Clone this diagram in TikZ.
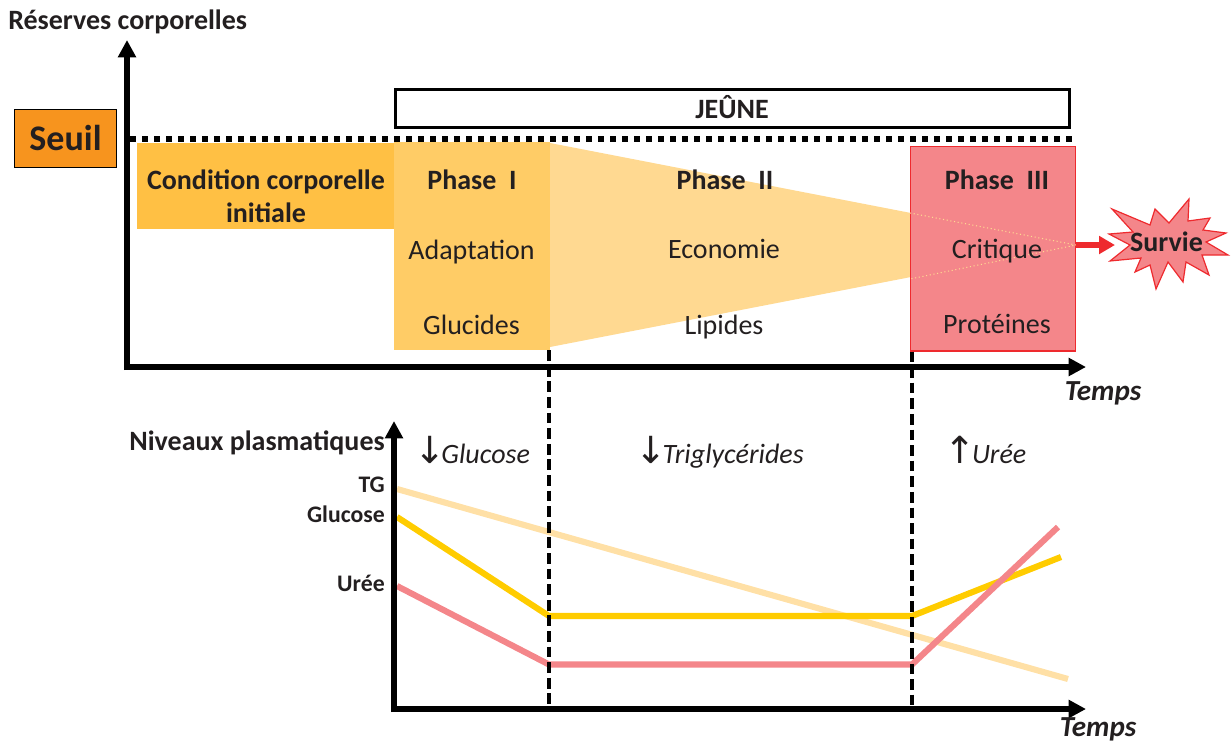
\documentclass[tikz,border=0pt]{standalone}
\usepackage{fontspec}
\setmainfont{Carlito}
\newfontfamily\arrowfont{DejaVu Sans}
\usepackage{tikz}
\usetikzlibrary{positioning, arrows.meta}
\definecolor{seuilfill}{HTML}{F7941E}
\definecolor{initfill}{HTML}{FFC044}
\definecolor{phaseonefill}{HTML}{FFCC66}
\definecolor{phasetwofill}{HTML}{FFD991}
\definecolor{phasethreefill}{HTML}{F4868A}
\definecolor{redline}{HTML}{EE2A2E}
\definecolor{tgline}{HTML}{FFE0A6}
\definecolor{glucoseline}{HTML}{FFCC00}
\definecolor{ink}{HTML}{231F20}
\tikzset{
  axis/.style={line width=4.5pt, -{Triangle[length=13pt,width=13pt]}},
  curve/.style={line width=4.6pt, line join=round},
  phaseline/.style={line width=2.5pt, dash pattern=on 8pt off 3.7pt},
  big/.style={font=\fontsize{21}{25}\selectfont\bfseries, text=ink},
  plain/.style={font=\fontsize{21}{25}\selectfont, text=ink},
  small/.style={font=\fontsize{17.8}{21}\selectfont\bfseries, text=ink},
  slanted/.style={font=\fontsize{21}{25}\selectfont\itshape, text=ink},
  title/.style={font=\fontsize{21.8}{26}\selectfont\bfseries\itshape, text=ink},
}

\begin{document}
\begin{tikzpicture}[x=0.75pt, y=-0.75pt]
    \useasboundingbox (0,0) rectangle (1231,743);

    % Draw the shaded phases
    \fill[phasetwofill] (550,143) -- (1076,245) -- (550,347) -- cycle;
    \node[draw=redline, line width=1pt, fill=phasethreefill, minimum width=124pt, minimum height=153.5pt, inner sep=0pt] (phasethree) at (993,248.5) {};
    \draw[phasetwofill, line width=0.8pt, dotted] (910,213) -- (1076,245) -- (910,279);
    \node[fill=initfill, minimum width=192.75pt, minimum height=64.5pt, inner sep=0pt] (initiale) at (265.5,186) {};
    \node[fill=phaseonefill, minimum width=117pt, minimum height=156pt, inner sep=0pt] (phaseone) at (472,246) {};

    % Draw threshold and fasting box
    \node[draw=black, line width=0.75pt, fill=seuilfill, minimum width=76pt, minimum height=43.5pt, inner sep=0pt] (seuil) at (65.5,138.5) {};
    \node[anchor=base, inner sep=0pt, font=\fontsize{27}{32}\selectfont\bfseries, text=ink] (seuiltext) at (65.5,150) {Seuil};
    \node[draw=black, line width=2.25pt, minimum width=505.5pt, minimum height=28.5pt, inner sep=0pt] (jeune) at (732.5,108) {};
    \node[big, anchor=base, inner sep=0pt] (jeunetext) at (732,118) {JEÛNE};
    \coordinate (seuilstart) at (130,139);
    \coordinate (seuilend) at (1073,139);
    \draw[line width=4.5pt, dash pattern=on 4.5pt off 4.5pt] (seuilstart) -- (seuilend);

    % Draw the star
    \draw[draw=redline, line width=0.9pt, fill=phasethreefill]
      (1112,209) -- (1150,225) -- (1155,209) -- (1169,223) -- (1189,199) -- (1188,221) -- (1210,218) -- (1203,230) -- (1226,233) -- (1206,242) -- (1228,255) -- (1202,255) -- (1209,275) -- (1186,262) -- (1183,282) -- (1168,262) -- (1156,289) -- (1150,265) -- (1135,272) -- (1141,258) -- (1110,261) -- (1130,245) -- (1109,234) -- (1133,232) -- cycle;
    \node[big, anchor=base, inner sep=0pt] (survie) at (1166.5,251) {Survie};
    \coordinate (starleft) at (1115,245);
    \draw[redline, line width=4.5pt, -{Triangle[length=12pt,width=13pt]}] (phasethree.east |- starleft) -- (starleft);

    % Draw axes of the upper chart
    \coordinate (origintop) at (127,367);
    \coordinate (toptip) at (127,40);
    \coordinate (righttip) at (1086,367);
    \draw[axis] ([yshift=-2.25pt]origintop) -- (toptip);
    \draw[axis] ([xshift=-2.25pt]origintop) -- (righttip);

    % Draw the plasma levels
    \foreach \name/\col/\pts in {tg/tgline/{(397,489) -- (1068,679)}, gluc/glucoseline/{(397,517) -- (549,616) -- (912,616) -- (1061,557)}, uree/phasethreefill/{(397,586) -- (549,664.5) -- (912,664.5) -- (1058,527)}} {
      \draw[curve, \col] \pts;
    }

    % Draw axes of the lower chart
    \coordinate (originlow) at (394,709);
    \coordinate (lowtip) at (394,421);
    \coordinate (lowright) at (1086,709);
    \draw[axis] ([yshift=-2.25pt]originlow) -- (lowtip);
    \draw[axis] ([xshift=-2.25pt]originlow) -- (lowright);

    % Draw the phase limits
    \coordinate (limitoneb) at (549,705);
    \coordinate (limittwob) at (912,705);
    \draw[phaseline] (phaseone.south east -| limitoneb) -- (limitoneb);
    \draw[phaseline] (phasethree.south west -| limittwob) -- (limittwob);

    % Labels in the phases
    \foreach \name/\x/\y/\sty/\txt in {a/266/189/big/Condition corporelle, b/266/222/big/initiale, c/472/189/big/Phase~~I, d/471.5/259/plain/Adaptation, e/471.5/334/plain/Glucides, f/725/189/big/Phase~~II, g/724/258/plain/Economie, h/724/334/plain/Lipides, i/997/189/big/Phase~~III, j/997/258/plain/Critique, k/997/333/plain/Protéines} {
      \node[\sty, anchor=base, inner sep=0pt] (label\name) at (\x,\y) {\txt};
    }

    % Axis titles
    \node[big, anchor=base west, inner sep=0pt] (reserves) at (8,29) {Réserves corporelles};
    \node[big, anchor=base east, inner sep=0pt] (niveaux) at (385,450) {Niveaux plasmatiques};
    \node[title, anchor=base, inner sep=0pt] (tempstop) at (1103,400) {Temps};
    \node[title, anchor=base, inner sep=0pt] (tempslow) at (1098,736) {Temps};

    % Curve names
    \foreach \name/\y/\txt in {tg/492/TG, gluc/522/Glucose, uree/591/Urée} {
      \node[small, anchor=base east, inner sep=0pt] (name\name) at (385,\y) {\txt};
    }

    % Changes in each phase
    \foreach \name/\x/\arrow/\txt in {glucose/472/↓/Glucose, trig/719.5/↓/Triglycérides, uree/985.5/↑/Urée} {
      \node[slanted, anchor=base, inner sep=0pt] (change\name) at (\x,463) {{\arrowfont\upshape\mdseries\fontsize{28}{30}\selectfont\arrow}\kern-3pt\txt};
    }
\end{tikzpicture}
\end{document}
